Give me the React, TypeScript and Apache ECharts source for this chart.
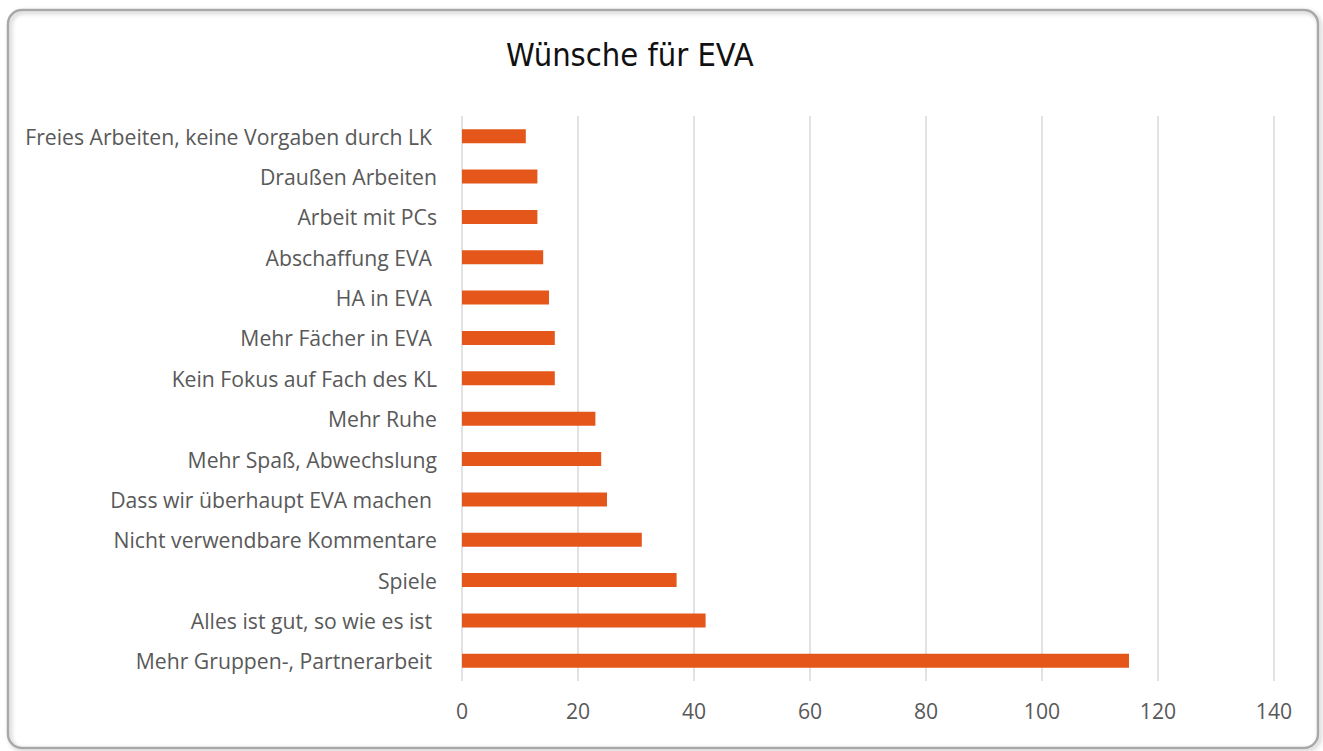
import React, { useEffect, useRef } from "react";
import * as echarts from "echarts";

const categories = [
  "Mehr Gruppen-, Partnerarbeit",
  "Alles ist gut, so wie es ist",
  "Spiele",
  "Nicht verwendbare Kommentare",
  "Dass wir überhaupt EVA machen",
  "Mehr Spaß, Abwechslung",
  "Mehr Ruhe",
  "Kein Fokus auf Fach des KL",
  "Mehr Fächer in EVA",
  "HA in EVA",
  "Abschaffung EVA",
  "Arbeit mit PCs",
  "Draußen Arbeiten",
  "Freies Arbeiten, keine Vorgaben durch LK",
];
// labels that had a trailing space in the original (end slightly further left)
const trailingSpace = [true, true, false, false, true, false, false, false, true, true, true, false, false, true];
const values = [115, 42, 37, 31, 25, 24, 23, 16, 16, 15, 14, 13, 13, 11];
const xTicks = [0, 20, 40, 60, 80, 100, 120, 140];

export default function App() {
  const ref = useRef<HTMLDivElement>(null);
  useEffect(() => {
    document.body.style.margin = "0";
    const chart = echarts.init(ref.current!, null, { renderer: "svg" });
    chart.setOption({
      animation: false,
      backgroundColor: "#ffffff",
      title: {
        text: "Wünsche für EVA",
        left: 501,
        top: 34,
        textStyle: {
          fontFamily: "DejaVu Sans Condensed",
          fontSize: 32.4,
          fontWeight: "normal",
          color: "#111111",
        },
      },
      graphic: [
        {
          type: "rect",
          shape: { x: 8, y: 10, width: 1310, height: 738, r: 14 },
          style: {
            fill: "rgba(0,0,0,0)",
            stroke: "#a8a8a8",
            lineWidth: 2.5,
            shadowBlur: 4,
            shadowOffsetX: 2,
            shadowOffsetY: 2,
            shadowColor: "rgba(0,0,0,0.25)",
          },
          silent: true,
          z: 10,
        },
      ],
      grid: { left: 462, right: 49, top: 116, height: 565, containLabel: false },
      xAxis: {
        type: "value",
        min: xTicks[0],
        max: xTicks[xTicks.length - 1],
        interval: 20,
        axisLine: { show: false },
        axisTick: { show: false },
        splitLine: { show: true, lineStyle: { color: "#d9d9d9", width: 1.5 } },
        axisLabel: {
          margin: 19,
          fontFamily: "Open Sans",
          fontSize: 21.2,
          color: "#595959",
        },
      },
      yAxis: {
        type: "category",
        data: categories.map((c, i) => ({
          value: c,
          textStyle: { padding: [0, trailingSpace[i] ? 5 : 0, 0, 0] },
        })),
        axisLine: { show: false },
        axisTick: { show: false },
        axisLabel: {
          margin: 25,
          fontFamily: "Open Sans",
          fontSize: 21.2,
          color: "#595959",
        },
      },
      series: [
        {
          type: "bar",
          data: values,
          barWidth: 14,
          itemStyle: { color: "#e4561a" },
        },
      ],
    });
    return () => chart.dispose();
  }, []);
  return <div ref={ref} style={{ width: 1323, height: 751 }} />;
}
